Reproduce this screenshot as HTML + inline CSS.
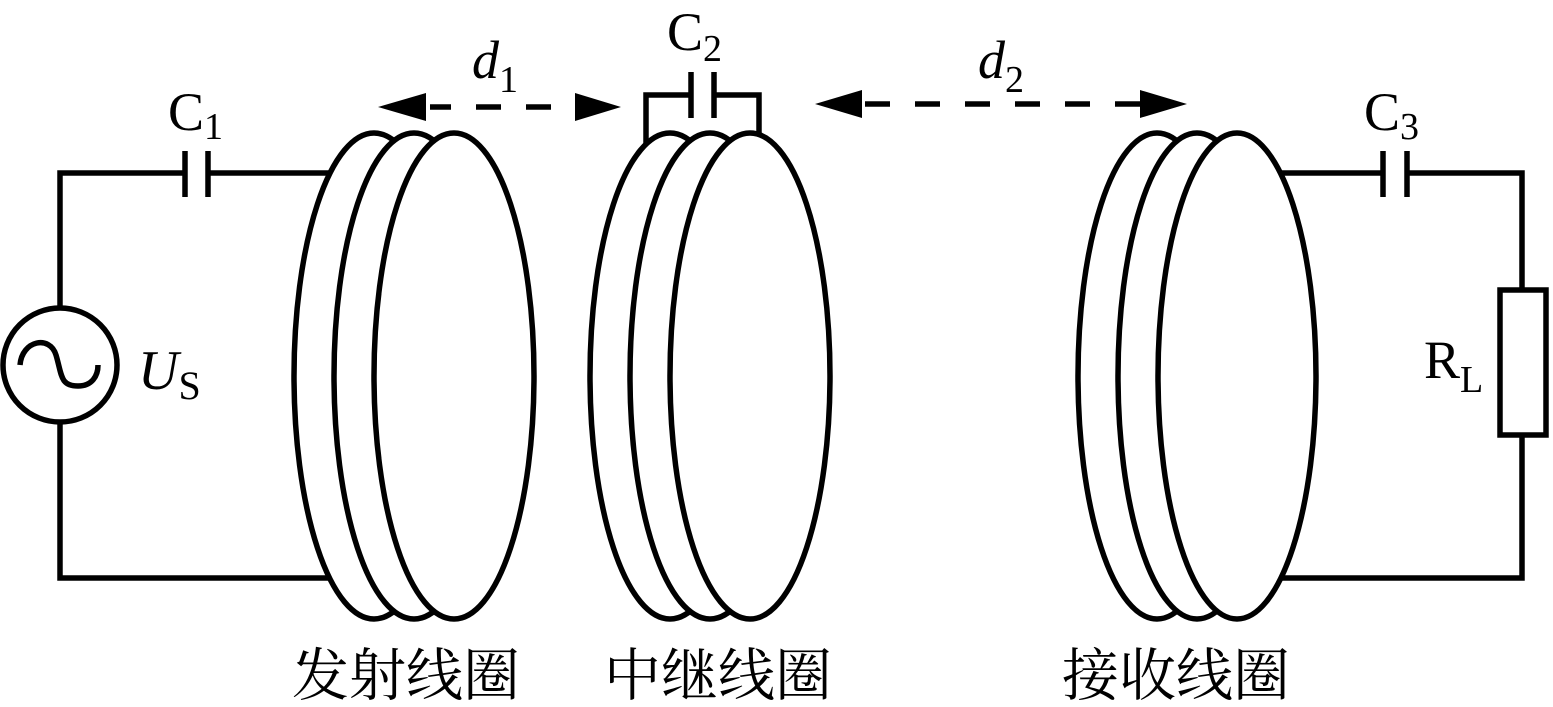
<!DOCTYPE html>
<html><head><meta charset="utf-8"><style>
html,body{margin:0;padding:0;background:#fff;}
svg{display:block;}
text{font-family:"Liberation Serif","Noto Serif CJK SC",serif;fill:#000;}
.cn{font-family:"Liberation Serif","Noto Serif CJK SC","Noto Sans CJK SC",serif;font-size:57px;}
</style></head><body>
<svg width="1553" height="707" viewBox="0 0 1553 707" xmlns="http://www.w3.org/2000/svg">
<g stroke="#000" stroke-width="5.5" fill="none">
<polyline points="340,173 208,173"/>
<polyline points="185,173 60,173 60,308"/>
<polyline points="60,422 60,578 340,578"/>
<line x1="185" y1="151" x2="185" y2="197"/>
<line x1="208" y1="151" x2="208" y2="197"/>
<circle cx="60" cy="365" r="57"/>
<path d="M20,365 C22,340 50,335 56,355 C62,375 60,386 78,386 C92,386 98,376 98,365"/>
<polyline points="691,95 646,95 646,160"/>
<polyline points="714,95 759,95 759,150"/>
<line x1="691" y1="72" x2="691" y2="118"/>
<line x1="714" y1="72" x2="714" y2="118"/>
<polyline points="1270,173 1383,173"/>
<polyline points="1407,173 1522,173 1522,290"/>
<polyline points="1522,435 1522,578 1270,578"/>
<line x1="1383" y1="151" x2="1383" y2="197"/>
<line x1="1407" y1="151" x2="1407" y2="197"/>
<rect x="1500" y="290" width="46" height="145"/>
</g>
<g stroke="#000" stroke-width="5.5" fill="#fff">
<ellipse cx="374" cy="376" rx="80" ry="243"/>
<ellipse cx="414" cy="376" rx="80" ry="243"/>
<ellipse cx="454" cy="376" rx="80" ry="243"/>
<ellipse cx="670" cy="376" rx="80" ry="243"/>
<ellipse cx="710" cy="376" rx="80" ry="243"/>
<ellipse cx="750" cy="376" rx="80" ry="243"/>
<ellipse cx="1157" cy="376" rx="79" ry="243"/>
<ellipse cx="1197" cy="376" rx="79" ry="243"/>
<ellipse cx="1237" cy="376" rx="79" ry="243"/>
</g>
<g stroke="#000" stroke-width="5.5" stroke-dasharray="25,25">
<line x1="430" y1="107" x2="575" y2="107" stroke-dashoffset="4"/>
<line x1="865" y1="104" x2="1140" y2="104"/>
</g>
<g fill="#000">
<polygon points="378,107 426,93 426,121"/>
<polygon points="621,107 575,93 575,121"/>
<polygon points="815,104 862,90 862,118"/>
<polygon points="1187,104 1140,90 1140,118"/>
</g>
<text x="168" y="130" font-size="54">C<tspan font-size="38" dy="9">1</tspan></text>
<text x="667" y="50" font-size="54">C<tspan font-size="38" dy="11">2</tspan></text>
<text x="1364" y="130" font-size="54">C<tspan font-size="38" dy="9">3</tspan></text>
<text x="472" y="78" font-size="54" font-style="italic">d<tspan font-size="38" font-style="normal" dy="14">1</tspan></text>
<text x="978" y="78" font-size="54" font-style="italic">d<tspan font-size="38" font-style="normal" dy="14">2</tspan></text>
<text x="138" y="389" font-size="56" font-style="italic">U<tspan font-size="40" font-style="normal" dy="10">S</tspan></text>
<text x="1424" y="378" font-size="54">R<tspan font-size="38" dy="14">L</tspan></text>
<text class="cn" x="292" y="695">发射线圈</text>
<text class="cn" x="604" y="695">中继线圈</text>
<text class="cn" x="1062" y="695">接收线圈</text>
</svg>
</body></html>
